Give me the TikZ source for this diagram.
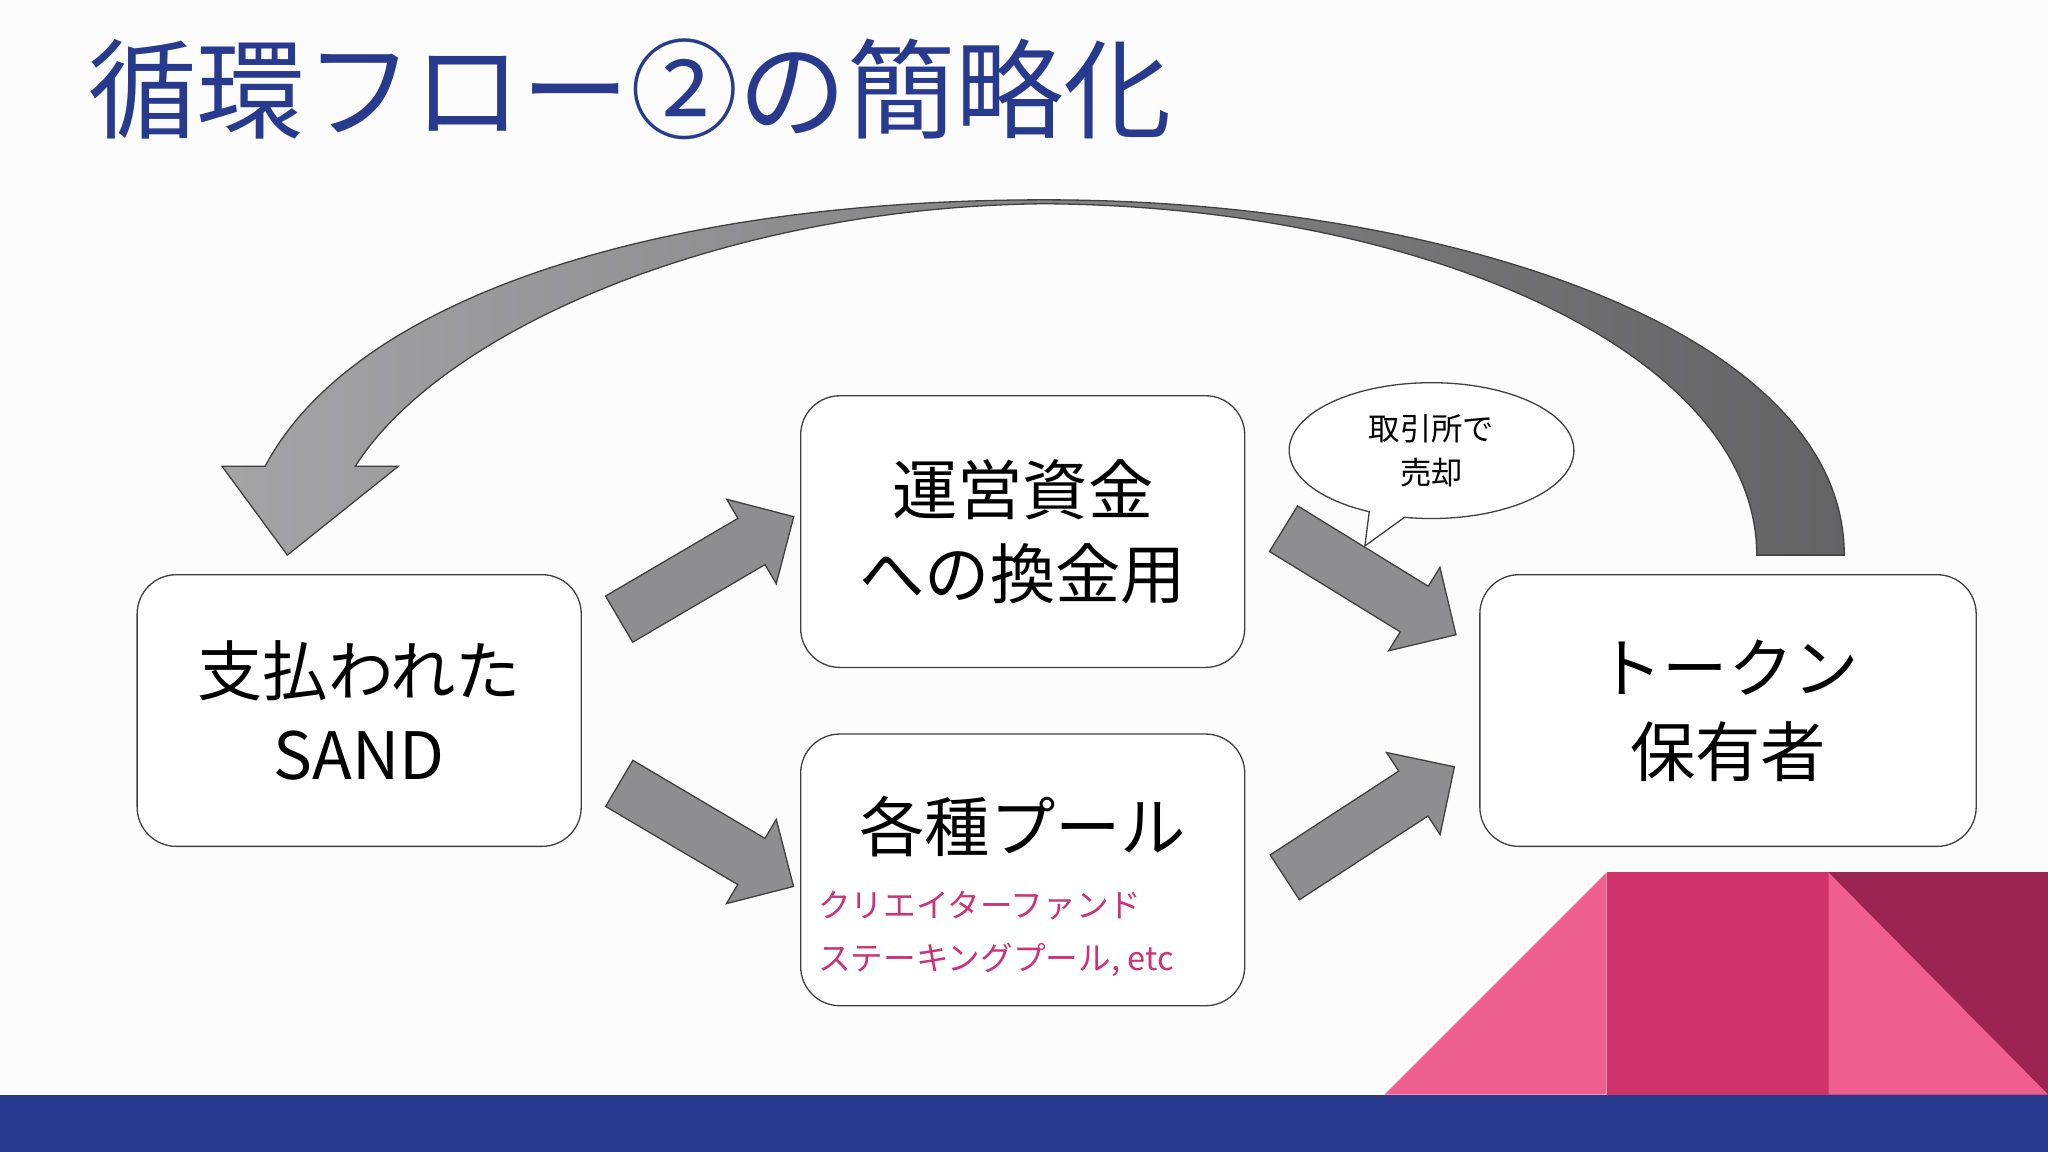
\documentclass[tikz,border=0pt]{standalone}
\usepackage{fontspec}
\setmainfont{Noto Sans CJK JP}
\usetikzlibrary{shapes.arrows,shapes.callouts}
\definecolor{navy}{HTML}{283A8E}
\definecolor{pinkL}{HTML}{EE5E8E}
\definecolor{pinkM}{HTML}{D0336A}
\definecolor{maroon}{HTML}{9B2450}
\definecolor{arrowg}{HTML}{8E8D8F}
\definecolor{txtpink}{HTML}{CC3377}
\tikzset{
 box/.style={draw=black!75,line width=1pt,rounded corners=30pt,fill=white,align=center,font=\fontsize{50}{64}\selectfont},
 fat/.style={single arrow,draw=black!75,line width=1pt,fill=arrowg,inner xsep=0pt,inner ysep=20pt,single arrow head extend=17pt,single arrow head indent=0pt,minimum height=155pt}
}
\begin{document}
\begin{tikzpicture}[x=1pt,y=-1pt]
\useasboundingbox (0,0) rectangle (1568,882);
\fill[white!98!gray] (0,0) rectangle (1568,882);
\node[anchor=west,text=navy,font=\fontsize{83}{85}\selectfont] (title) at (64,68) {循環フロー②の簡略化};
% decorations
\fill[pinkL] (1060,838) -- (1230,668) -- (1230,838) -- cycle;
\fill[pinkM] (1230,668) rectangle (1400,838);
\fill[maroon] (1400,668) rectangle (1568,838);
\fill[pinkL] (1400,668) -- (1568,838) -- (1400,838) -- cycle;
\fill[navy] (0,838) rectangle (1568,882);
% big arrow
\shade[left color=arrowg!80!white,right color=arrowg!70!black,draw=black!75,line width=1pt]
 (1412,425) .. controls (1412,250) and (1100,153) .. (800,153)
 .. controls (500,153) and (270,230) .. (203,357) -- (170,357) -- (220,425) -- (305,357) -- (272,357)
 .. controls (340,250) and (560,158) .. (800,156)
 .. controls (1090,158) and (1345,270) .. (1345,425) -- cycle;
% boxes
\node[box,minimum width=340pt,minimum height=208pt] (a) at (275,544) {支払われた\\SAND};
\node[box,minimum width=340pt,minimum height=208pt] (b) at (783,407) {運営資金\\への換金用};
\node[box,minimum width=340pt,minimum height=208pt] (c) at (783,666) {};
\node[font=\fontsize{50}{60}\selectfont] (ct) at (783,633) {各種プール};
\node[anchor=west,align=left,text=txtpink,font=\fontsize{25}{40}\selectfont] (cs) at (623,715) {クリエイターファンド\\ステーキングプール, etc};
\node[box,minimum width=380pt,minimum height=208pt] (d) at (1323,544) {トークン\\保有者};
% callout
\node[ellipse callout,draw=black!75,line width=1pt,fill=white,minimum width=218pt,minimum height=104pt,align=center,font=\fontsize{24}{34}\selectfont,callout absolute pointer={(1045,418)}] (co) at (1096,345) {取引所で\\売却};
% fat arrows
\node[fat,rotate=30.4] (f1) at (532,440) {};
\node[fat,rotate=-30.6] (f2) at (532,634) {};
\node[fat,rotate=-31.6] (f3) at (1040,440) {};
\node[fat,rotate=33.1] (f4) at (1040,635) {};
\end{tikzpicture}
\end{document}
